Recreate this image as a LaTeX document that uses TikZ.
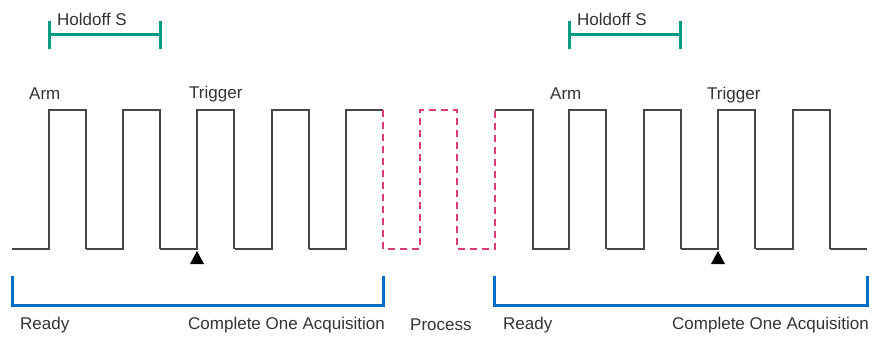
\documentclass[tikz,border=0pt]{standalone}
\usepackage{fontspec}
\setmainfont{Liberation Sans}
\usepackage{tikz}
\usepackage{xcolor}
\usetikzlibrary{positioning}

\definecolor{holdteal}{RGB}{0,155,130}
\definecolor{acqblue}{RGB}{0,110,200}
\definecolor{procpink}{RGB}{220,60,120}
\definecolor{wavegray}{RGB}{70,70,70}

\begin{document}
\begin{tikzpicture}
  [x=1pt,y=-1pt,every node/.style={anchor=west,inner sep=0pt,text=black!80,font=\fontsize{17}{17}\selectfont},
   wave/.style={draw=wavegray,line width=1.7pt},
   procwave/.style={draw=procpink,line width=1.7pt,dash pattern=on 7pt off 5pt},
   holdbar/.style={draw=holdteal,line width=3pt},
   acqbar/.style={draw=acqblue,line width=3pt}]
  \useasboundingbox (0,0) rectangle (876,337);
  % waveform, first acquisition
  \foreach \x in {49,123,197,272}
   \draw[wave] (\x-37,249) -- (\x,249) -- (\x,110) -- (\x+37,110) -- (\x+37,249);
  \draw[wave] (309,249) -- (346,249) -- (346,110) -- (383,110);
  % process
  \draw[procwave] (383,110) -- (383,249) -- (420,249) -- (420,110) -- (457,110)
   -- (457,249) -- (495,249) -- (495,110);
  % waveform, second acquisition
  \draw[wave] (495,110) -- (533,110) -- (533,249);
  \foreach \x in {569,644,718,793}
   \draw[wave] (\x-37,249) -- (\x,249) -- (\x,110) -- (\x+37,110) -- (\x+37,249);
  \draw[wave] (830,249) -- (867,249);
  % trigger marks
  \foreach \x in {197,718}
   \fill[black] (\x,251) -- (\x+7,264) -- (\x-7,264) -- cycle;
  % holdoff and acquisition brackets
  \foreach \from/\to in {49/160,569/680}
   \draw[holdbar] (\from,21) -- (\from,49) (\from,35) -- (\to,35) (\to,21) -- (\to,49);
  \foreach \from/\to in {12/383,494/867}
   \draw[acqbar] (\from,276) -- (\from,305) -- (\to,305) -- (\to,276);
  % labels
  \node (hold1) at (57,19) {Holdoff S};
  \node (hold2) at (577,19) {Holdoff S};
  \node (arm1) at (29,94) {Arm};
  \node (trig1) at (189,94) {Trigger};
  \node (arm2) at (550,94) {Arm};
  \node (trig2) at (707,95) {Trigger};
  \node (rdy1) at (20,325) {Ready};
  \node (acq1) at (188,325) {Complete One Acquisition};
  \node (proc) at (410,325) {Process};
  \node (rdy2) at (503,325) {Ready};
  \node (acq2) at (672,325) {Complete One Acquisition};
\end{tikzpicture}
\end{document}
